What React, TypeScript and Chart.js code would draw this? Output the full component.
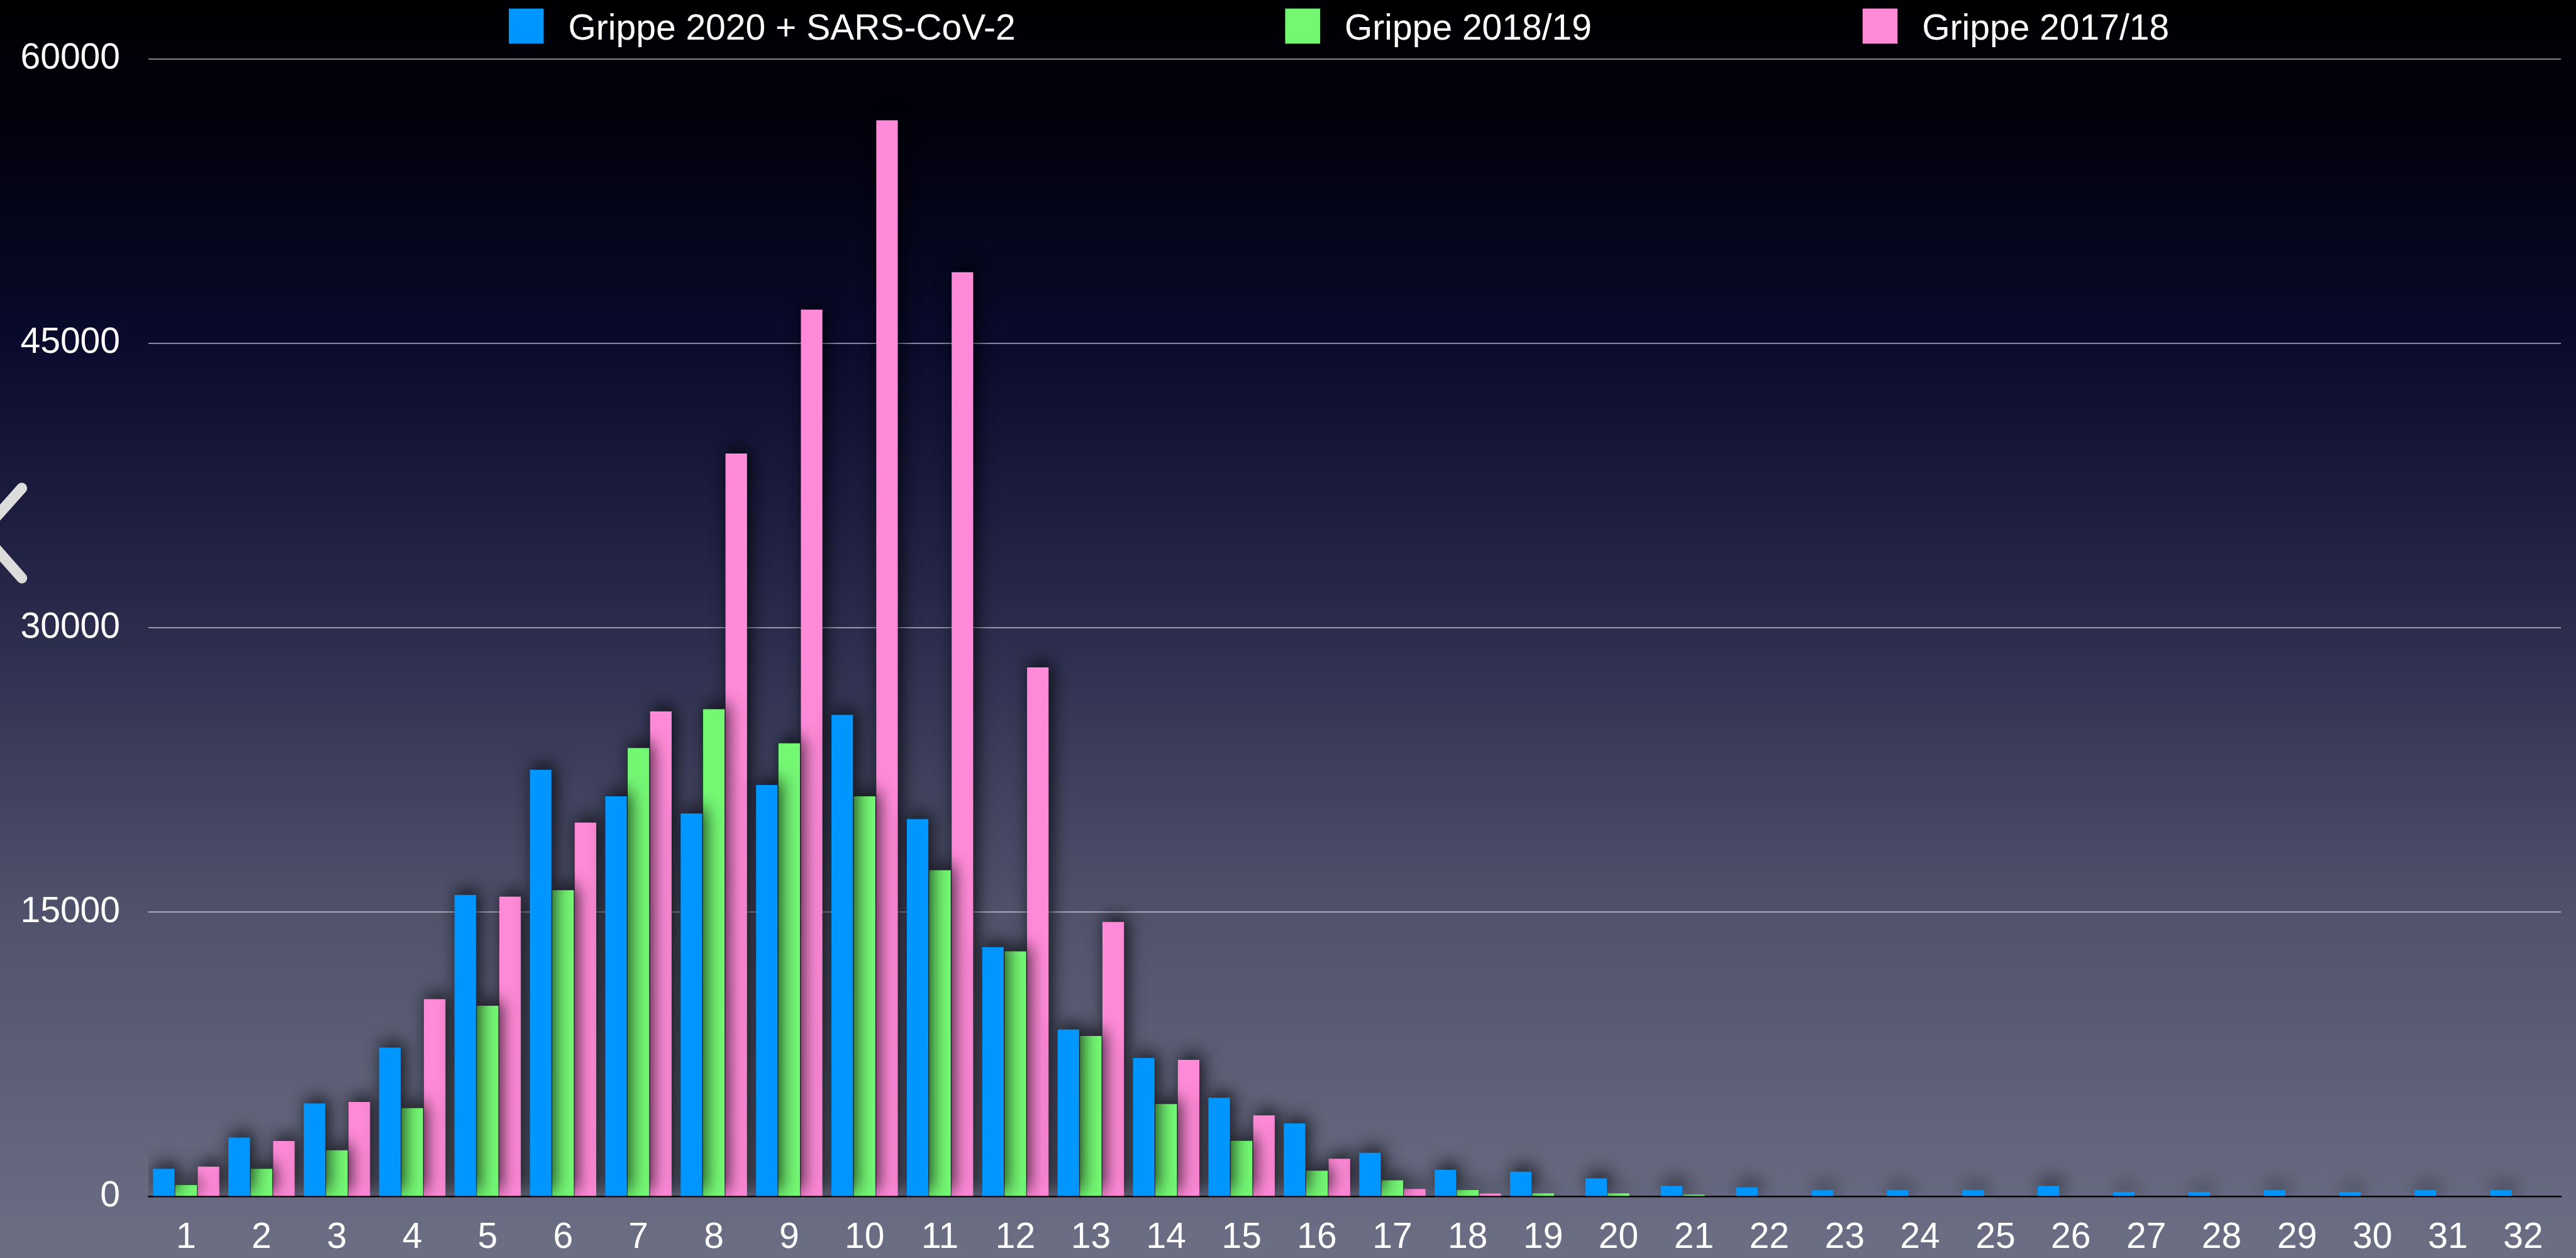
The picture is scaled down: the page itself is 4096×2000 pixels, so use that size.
import React, { useEffect, useRef } from "react";
import { Chart, registerables } from "chart.js";

Chart.register(...registerables);

// ---- data ----
const weeks = [
  "1", "2", "3", "4", "5", "6", "7", "8", "9", "10", "11", "12", "13", "14", "15", "16",
  "17", "18", "19", "20", "21", "22", "23", "24", "25", "26", "27", "28", "29", "30", "31", "32",
];

const grippe2020Covid = [
  1450, 3100, 4900, 7850, 15900, 22500, 21100, 20200, 21700, 25400, 19900, 13150, 8800, 7300, 5200, 3850,
  2300, 1400, 1300, 950, 550, 470, 320, 320, 320, 550, 230, 230, 320, 230, 320, 320,
];

const grippe2018_19 = [
  600, 1450, 2430, 4650, 10050, 16150, 23650, 25700, 23900, 21100, 17200, 12920, 8460, 4870, 2930, 1350,
  850, 330, 160, 160, 90, 0, 0, 0, 0, 0, 0, 0, 0, 0, 0, 0,
];

const grippe2017_18 = [
  1570, 2920, 4980, 10400, 15810, 19720, 25580, 39180, 46770, 56760, 48750, 27900, 14470, 7200, 4270, 1980,
  390, 150, 0, 0, 0, 0, 0, 0, 0, 0, 0, 0, 0, 0, 0, 0,
];

const seriesLabels = ["Grippe 2020 + SARS-CoV-2", "Grippe 2018/19", "Grippe 2017/18"];
const seriesColors = ["#0096ff", "#74f874", "#ff8ad8"];

const yMin = 0;
const yMax = 60000;
const yStep = 15000;

// ---- layout / style ----
const W = 4096;
const H = 2000;
const FONT = '"Liberation Sans", Arial, Helvetica, sans-serif';

const bgPlugin = {
  id: "bgGradient",
  beforeDraw(chart: any) {
    const { ctx, width, height } = chart;
    const g = ctx.createLinearGradient(0, 0, 0, height);
    g.addColorStop(0, "#000002");
    g.addColorStop(0.12, "#020210");
    g.addColorStop(0.27, "#0a0a2c");
    g.addColorStop(0.4, "#1b1c3e");
    g.addColorStop(0.51, "#2d2e4e");
    g.addColorStop(0.73, "#51536c");
    g.addColorStop(0.96, "#676a80");
    g.addColorStop(1, "#6c6e84");
    ctx.save();
    ctx.fillStyle = g;
    ctx.fillRect(0, 0, width, height);
    ctx.restore();
  },
};

const shadowPlugin = {
  id: "barShadow",
  beforeDatasetsDraw(chart: any) {
    const ctx = chart.ctx;
    ctx.save();
    ctx.shadowColor = "rgba(0,0,0,0.8)";
    ctx.shadowBlur = 28;
    ctx.shadowOffsetX = 5;
    ctx.shadowOffsetY = -8;
  },
  afterDatasetsDraw(chart: any) {
    chart.ctx.restore();
  },
};

const LEGEND_X = [809, 2043.5, 2961.7];
const LEGEND_BOX = 55.5;

const legendPlugin = {
  id: "topLegend",
  afterDraw(chart: any) {
    const ctx = chart.ctx;
    ctx.save();
    ctx.font = `57px ${FONT}`;
    ctx.textBaseline = "alphabetic";
    ctx.textAlign = "left";
    chart.data.datasets.forEach((ds: any, i: number) => {
      const x = LEGEND_X[i];
      ctx.fillStyle = ds.backgroundColor;
      ctx.fillRect(x, 13.6, LEGEND_BOX, 55.8);
      ctx.fillStyle = "#ffffff";
      ctx.fillText(ds.label, x + LEGEND_BOX + 39, 63.3);
    });
    ctx.restore();
  },
};

const chevronPlugin = {
  id: "chevron",
  afterDraw(chart: any) {
    const ctx = chart.ctx;
    ctx.save();
    ctx.strokeStyle = "#dcdcdc";
    ctx.lineWidth = 17;
    ctx.lineCap = "round";
    ctx.lineJoin = "round";
    ctx.beginPath();
    ctx.moveTo(34.7, 776);
    ctx.lineTo(-28.6, 847);
    ctx.lineTo(34.7, 919);
    ctx.stroke();
    ctx.restore();
  },
};

export default function App() {
  const ref = useRef<HTMLCanvasElement | null>(null);

  useEffect(() => {
    document.body.style.margin = "0";
    document.body.style.background = "#000";
    const canvas = ref.current;
    if (!canvas) return;
    const values = [grippe2020Covid, grippe2018_19, grippe2017_18];
    const chart = new Chart(canvas, {
      type: "bar",
      data: {
        labels: weeks,
        datasets: values.map((v, i) => ({
          label: seriesLabels[i],
          data: v,
          backgroundColor: seriesColors[i],
          borderWidth: 0,
          categoryPercentage: 0.892,
          barPercentage: 0.96,
        })),
      },
      options: {
        responsive: false,
        maintainAspectRatio: false,
        devicePixelRatio: 1,
        animation: false,
        layout: { padding: { top: 93.6, right: 24, bottom: 0, left: 0 } },
        plugins: {
          legend: { display: false },
          tooltip: { enabled: false },
          title: { display: false },
        },
        scales: {
          x: {
            type: "category",
            grid: { display: false, drawTicks: false },
            border: { display: true, color: "#000000", width: 2.6 },
            ticks: {
              color: "#ffffff",
              font: { size: 57, family: FONT },
              padding: 32,
              maxRotation: 0,
              autoSkip: false,
            },
            afterFit: (s: any) => {
              s.height = 98;
            },
          },
          y: {
            min: yMin,
            max: yMax,
            grid: { color: "rgba(255,255,255,0.6)", lineWidth: 1.7, drawTicks: false },
            border: { display: false },
            ticks: {
              stepSize: yStep,
              color: "#ffffff",
              font: { size: 57, family: FONT },
              padding: 45,
              callback: (v: any) => String(v),
            },
            afterFit: (s: any) => {
              s.width = 236;
            },
          },
        },
      },
      plugins: [bgPlugin, shadowPlugin, legendPlugin, chevronPlugin],
    } as any);
    return () => chart.destroy();
  }, []);

  return (
    <div style={{ position: "fixed", left: 0, top: 0, width: W, height: H, background: "#000" }}>
      <canvas ref={ref} width={W} height={H} style={{ display: "block", width: W, height: H }} />
    </div>
  );
}
